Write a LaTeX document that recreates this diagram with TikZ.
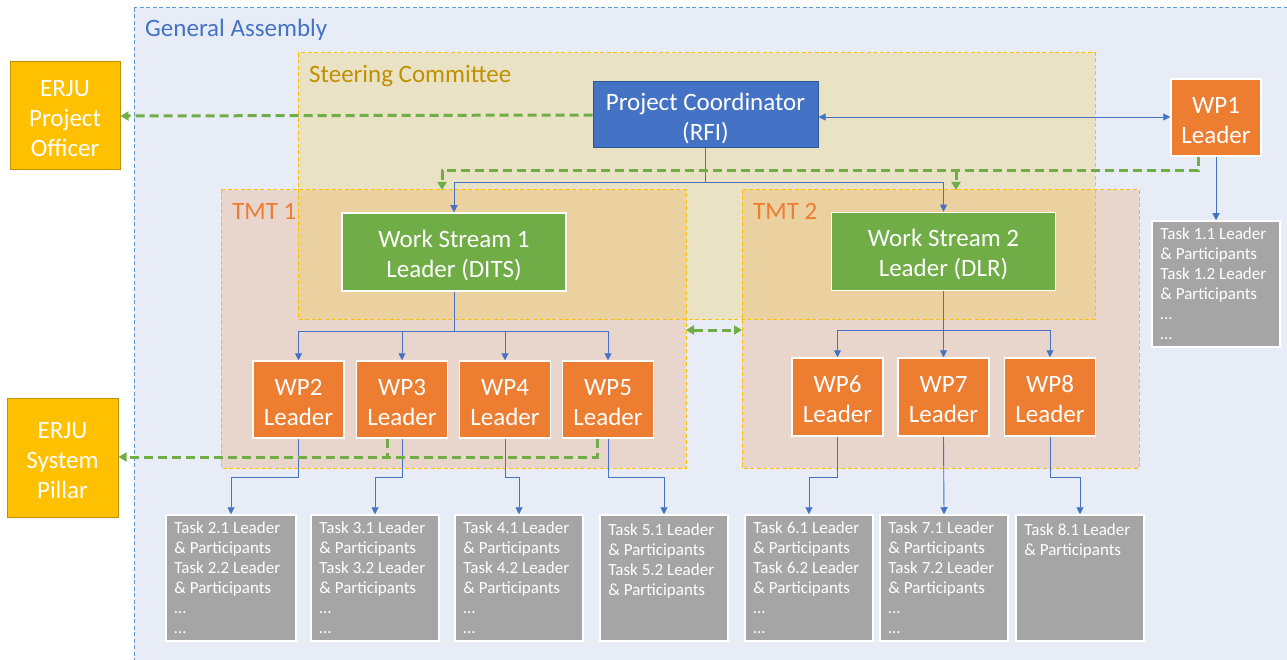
\documentclass[tikz,border=0pt]{standalone}
\usepackage{fontspec}
\setmainfont{Carlito}
\usetikzlibrary{arrows.meta}
\definecolor{gabg}{HTML}{E8ECF7}
\definecolor{gaborder}{HTML}{5B9BD5}
\definecolor{scbg}{HTML}{EAE2C5}
\definecolor{tmtbg}{HTML}{E8D5CC}
\definecolor{ovlbg}{HTML}{EBD0A0}
\definecolor{gold}{HTML}{FFC000}
\definecolor{golddark}{HTML}{BF9000}
\definecolor{orng}{HTML}{ED7D31}
\definecolor{grn}{HTML}{70AD47}
\definecolor{blu}{HTML}{4472C4}
\definecolor{bludark}{HTML}{2F5597}
\definecolor{gry}{HTML}{A5A5A5}
\newcommand{\lowA}{\rule{0pt}{22pt}}
\newcommand{\lowB}{\rule{0pt}{24pt}}
\begin{document}
\begin{tikzpicture}[x=1pt,y=-1pt,
  big/.style={font=\fontsize{25}{30}\selectfont},
  region/.style={rectangle, inner sep=0pt, outer sep=0pt},
  rborder/.style={line width=1pt, dash pattern=on 4pt off 2.5pt},
  lbl/.style={big, anchor=base west, inner sep=0pt},
  box/.style={rectangle, inner sep=0pt, big, text=white, align=center},
  erju/.style={box, fill=gold, draw=golddark, line width=1pt},
  wpbox/.style={box, fill=orng, draw=white, line width=1.5pt, minimum width=91pt, minimum height=77pt},
  wsbox/.style={box, fill=grn, draw=white, line width=1.5pt, minimum width=224pt, minimum height=78pt},
  taskbox/.style={rectangle, inner sep=0pt, fill=gry, draw=white, line width=1.5pt, minimum width=128pt, minimum height=126pt},
  tasktext/.style={font=\fontsize{17}{20}\selectfont, text=white, align=left, inner sep=0pt, anchor=north west},
  bl/.style={draw=blu, line width=0.9pt, -{Triangle[width=7pt,length=7pt]}},
  gd/.style={draw=grn, line width=3pt, dash pattern=on 9pt off 5pt, -{Triangle[width=9pt,length=8pt]}},
  gdn/.style={draw=grn, line width=3pt, dash pattern=on 9pt off 5pt}
]
\useasboundingbox (0,0) rectangle (1287,660);
\clip (0,0) rectangle (1287,660);
\fill[white] (0,0) rectangle (1287,660);

% regions
\node[region, fill=gabg, minimum width=1166pt, minimum height=662pt] (ga) at (717,339) {};
\node[region, fill=scbg, minimum width=797pt, minimum height=266pt] (sc) at (696.5,186) {};
\node[region, fill=tmtbg, minimum width=465pt, minimum height=278pt] (tmt1) at (453.5,329) {};
\node[region, fill=tmtbg, minimum width=397pt, minimum height=278pt] (tmt2) at (940.5,329) {};
\fill[ovlbg] (sc.west |- tmt1.north) rectangle (tmt1.east |- sc.south);
\fill[ovlbg] (tmt2.north west) rectangle (sc.south east);
\draw[rborder, draw=gaborder] (ga.north west) rectangle (ga.south east);
\draw[rborder, draw=gold] (sc.north west) rectangle (sc.south east);
\draw[rborder, draw=gold] (tmt1.north west) rectangle (tmt1.south east);
\draw[rborder, draw=gold] (tmt2.north west) rectangle (tmt2.south east);

\node[lbl, text=blu] (galbl) at (145,37) {General Assembly};
\node[lbl, text=golddark] (sclbl) at (309,83) {Steering Committee};
\node[lbl, text=orng] (tmt1lbl) at (232,220) {TMT 1};
\node[lbl, text=orng] (tmt2lbl) at (753,220) {TMT 2};

% boxes
\node[erju, minimum width=110pt, minimum height=108pt] (po) at (65,116) {\lowA ERJU\\Project\\Officer};
\node[erju, minimum width=111pt, minimum height=119pt] (sp) at (62.5,457.5) {\lowA ERJU\\System\\Pillar};
\node[box, fill=blu, draw=bludark, line width=1pt, minimum width=225pt, minimum height=66pt] (pc) at (705.5,115) {\lowB Project Coordinator\\(RFI)};
\node[wpbox, minimum width=90pt] (wp1) at (1216,117.5) {\lowA WP1\\Leader};
\node[wsbox] (ws1) at (454,252) {\lowB Work Stream 1\\Leader (DITS)};
\node[wsbox] (ws2) at (943.5,251.5) {\lowB Work Stream 2\\Leader (DLR)};
\node[wpbox] (wp2) at (298.5,399.5) {\lowA WP2\\Leader};
\node[wpbox] (wp3) at (402,399.5) {\lowA WP3\\Leader};
\node[wpbox] (wp4) at (505,399.5) {\lowA WP4\\Leader};
\node[wpbox] (wp5) at (608,399.5) {\lowA WP5\\Leader};
\node[wpbox, minimum height=78pt] (wp6) at (837.5,397) {\lowA WP6\\Leader};
\node[wpbox, minimum height=78pt] (wp7) at (943.5,397) {\lowA WP7\\Leader};
\node[wpbox, minimum height=78pt] (wp8) at (1050,397) {\lowA WP8\\Leader};

% task boxes
\node[taskbox] (t1) at (1216,284) {};
\node[taskbox, minimum width=130pt] (t2) at (231,578) {};
\node[taskbox] (t3) at (375,578) {};
\node[taskbox] (t4) at (519,578) {};
\node[taskbox] (t5) at (664,578) {};
\node[taskbox] (t6) at (809,578) {};
\node[taskbox] (t7) at (944,578) {};
\node[taskbox] (t8) at (1080,578) {};
\node[tasktext] (t1x) at ([xshift=9pt,yshift=-7pt]t1.north west) {Task 1.1 Leader\\\& Participants\\Task 1.2 Leader\\\& Participants\\…\\…};
\node[tasktext] (t2x) at ([xshift=9pt,yshift=-7pt]t2.north west) {Task 2.1 Leader\\\& Participants\\Task 2.2 Leader\\\& Participants\\…\\…};
\node[tasktext] (t3x) at ([xshift=9pt,yshift=-7pt]t3.north west) {Task 3.1 Leader\\\& Participants\\Task 3.2 Leader\\\& Participants\\…\\…};
\node[tasktext] (t4x) at ([xshift=9pt,yshift=-7pt]t4.north west) {Task 4.1 Leader\\\& Participants\\Task 4.2 Leader\\\& Participants\\…\\…};
\node[tasktext] (t5x) at ([xshift=9pt,yshift=-9pt]t5.north west) {Task 5.1 Leader\\\& Participants\\Task 5.2 Leader\\\& Participants};
\node[tasktext] (t6x) at ([xshift=9pt,yshift=-7pt]t6.north west) {Task 6.1 Leader\\\& Participants\\Task 6.2 Leader\\\& Participants\\…\\…};
\node[tasktext] (t7x) at ([xshift=9pt,yshift=-7pt]t7.north west) {Task 7.1 Leader\\\& Participants\\Task 7.2 Leader\\\& Participants\\…\\…};
\node[tasktext] (t8x) at ([xshift=9pt,yshift=-9pt]t8.north west) {Task 8.1 Leader\\\& Participants};

% blue connectors
\coordinate (b0) at (705.5,182);
\draw[bl] (pc.south) -- (b0) -| (ws1.north);
\draw[bl] (b0) -| (ws2.north);
\coordinate (h0) at (1000,117);
\draw[bl, {Triangle[width=7pt,length=7pt]}-{Triangle[width=7pt,length=7pt]}] (pc.east |- h0) -- (wp1.west |- h0);
\draw[bl] (wp1.south) -- (t1.north);
\coordinate (b1) at (454,331);
\draw[bl] (ws1.south) -- (b1) -| (wp2.north);
\draw[bl] (b1) -| (wp3.north);
\draw[bl] (b1) -| (wp4.north);
\draw[bl] (b1) -| (wp5.north);
\coordinate (b2) at (943.5,330);
\draw[bl] (ws2.south) -- (wp7.north);
\draw[bl] (b2) -| (wp6.north);
\draw[bl] (b2) -| (wp8.north);
\coordinate (e) at (0,477);
\draw[bl] (wp2.south) -- (wp2.south |- e) -| (t2.north);
\draw[bl] (wp3.south) -- (wp3.south |- e) -| (t3.north);
\draw[bl] (wp4.south) -- (wp4.south |- e) -| (t4.north);
\draw[bl] (wp5.south) -- (wp5.south |- e) -| (t5.north);
\draw[bl] (wp6.south) -- (wp6.south |- e) -| (t6.north);
\draw[bl] (wp7.south) -- (t7.north);
\draw[bl] (wp8.south) -- (wp8.south |- e) -| (t8.north);

% green dashed connectors
\draw[gd] (pc.west) -- (po.east);
\coordinate (g0) at (1198,171);
\coordinate (g1) at (442,171);
\coordinate (g2) at (956,171);
\draw[gd] (wp1.south -| g0) -- (g0) -- (g1) -- (tmt1.north -| g1);
\draw[gd] (g2) -- (tmt2.north -| g2);
\coordinate (gm) at (714,330);
\draw[gd, {Triangle[width=9pt,length=8pt]}-{Triangle[width=9pt,length=8pt]}] (tmt1.east |- gm) -- (tmt2.west |- gm);
\coordinate (c3) at (387,457);
\coordinate (c5) at (597,457);
\draw[gd] (wp5.south -| c5) -- (c5) -- (sp.east |- c5);
\draw[gdn] (wp3.south -| c3) -- (c3);
\end{tikzpicture}
\end{document}
